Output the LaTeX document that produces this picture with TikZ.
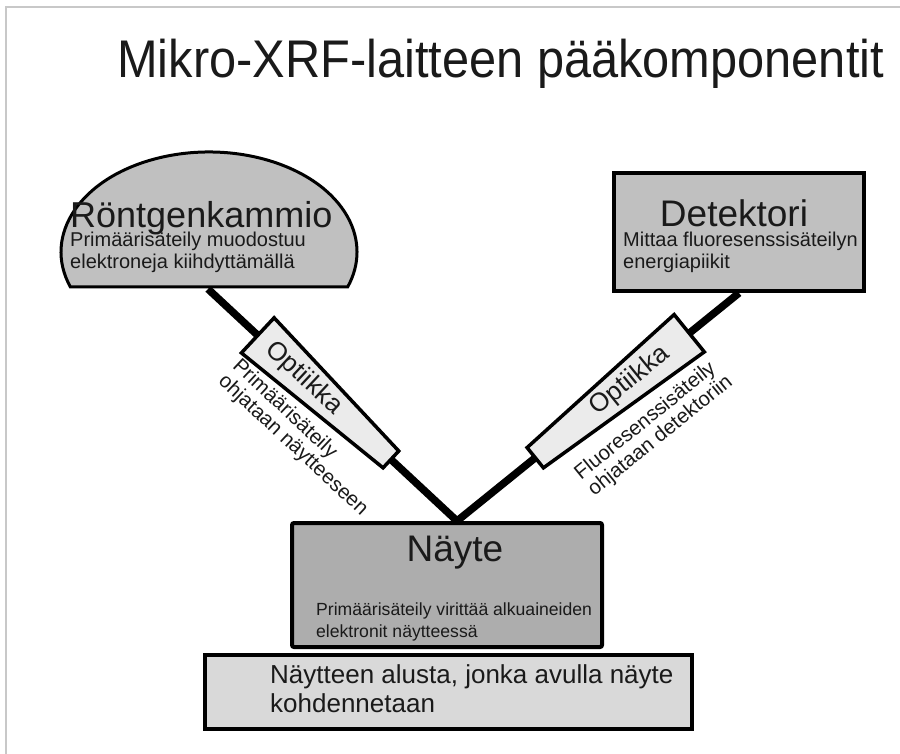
\documentclass[tikz,border=0pt]{standalone}
\usepackage{fontspec}
\setmainfont{Liberation Sans}
\newfontfamily\titlefont[FakeStretch=0.92]{Liberation Sans}
\usetikzlibrary{calc}
\definecolor{txt}{HTML}{1A1A1A}
\definecolor{framegray}{HTML}{C8C8C8}
\definecolor{boxgray}{HTML}{C0C0C0}
\definecolor{samplegray}{HTML}{ADADAD}
\definecolor{stagegray}{HTML}{D9D9D9}
\definecolor{opticgray}{HTML}{EBEBEB}
\begin{document}
\begin{tikzpicture}[x=1pt,y=-1pt,
  beam/.style={line width=7.5pt, draw=black, line join=miter},
  box/.style={draw=black, line width=4pt, inner sep=0pt},
  optbox/.style={draw=black, fill=opticgray, line width=3.5pt, line join=miter},
  subtext/.style={font=\fontsize{20}{22}\selectfont, text=txt, align=left, inner sep=0pt},
  headtext/.style={font=\fontsize{37}{40}\selectfont, text=txt, inner sep=0pt},
  opttext/.style={font=\fontsize{26}{28}\selectfont, text=txt, inner sep=0pt},
  labeltext/.style={font=\fontsize{20.5}{21}\selectfont, text=txt, align=left, inner sep=0pt}]
\useasboundingbox (0,0) rectangle (900,754);
\fill[white] (0,0) rectangle (900,754);
\draw[framegray, line width=1.5pt] (6,754) -- (6,7) -- (900,7);

% title
\node[anchor=base west, inner sep=0pt, text=txt, font=\titlefont\fontsize{53}{60}\selectfont] (title) at (117,78) {Mikro-XRF-laitteen pääkomponentit};

% anchors of the components
\coordinate (rkb) at (208,289);
\coordinate (apex) at (457,521);
\node[box, fill=boxgray, minimum width=250pt, minimum height=118pt, anchor=north west] (detektori) at (612,171) {};

% beams
\draw[beam] (rkb) -- (apex) -- (detektori.south);

% boxes on top of beams
\node[box, fill=boxgray, minimum width=250pt, minimum height=118pt, anchor=north west] at (612,171) {};
\node[box, fill=samplegray, minimum width=310pt, minimum height=124pt, rounded corners=2pt, anchor=north west] (nayte) at (290,521) {};
\node[box, fill=stagegray, minimum width=487pt, minimum height=74pt, anchor=north west] (alusta) at (203,653) {};

% X-ray tube dome
\draw[fill=boxgray, line width=3pt, line join=miter] (70.4,287) arc[start angle=159.5, end angle=380.5, x radius=148, y radius=100] -- cycle;

% optics
\coordinate (L1) at ($(rkb)!68pt!(apex)$);
\coordinate (L2) at ($(rkb)!250pt!(apex)$);
\draw[optbox] ($(L1)!24pt!90:(apex)$) -- ($(L2)!11.5pt!90:(apex)$) -- ($(L2)!11.5pt!-90:(apex)$) -- ($(L1)!24pt!-90:(apex)$) -- cycle;
\coordinate (R1) at ($(detektori.south)!64pt!(apex)$);
\coordinate (R2) at ($(detektori.south)!262pt!(apex)$);
\draw[optbox] ($(R1)!24pt!90:(apex)$) -- ($(R2)!13pt!90:(apex)$) -- ($(R2)!13pt!-90:(apex)$) -- ($(R1)!24pt!-90:(apex)$) -- cycle;

\node[opttext, rotate=-43] (optL) at ($(rkb)!131pt!(apex)$) {Optiikka};
\node[opttext, rotate=39] (optR) at ($(detektori.south)!140pt!(apex)$) {Optiikka};
\node[labeltext, rotate=-43] (labL) at (300,438) {Primäärisäteily\\ohjataan näytteeseen};
\node[labeltext, rotate=39] (labR) at (654,428) {Fluoresenssisäteily\\ohjataan detektoriin};

% texts (base anchor = baseline of the last line)
\node[headtext, anchor=base west, font=\fontsize{36}{40}\selectfont] (rkhead) at (70,228) {Röntgenkammio};
\node[subtext, anchor=base west] (rksub) at (70,269) {Primäärisäteily muodostuu\\elektroneja kiihdyttämällä};
\node[headtext, anchor=base] (dthead) at (734,227) {Detektori};
\node[subtext, anchor=base west] (dtsub) at (623,269) {Mittaa fluoresenssisäteilyn\\energiapiikit};
\node[headtext, anchor=base] (nyhead) at (455,561) {Näyte};
\node[subtext, anchor=base west, font=\fontsize{17.6}{22}\selectfont] (nysub) at (316,637) {Primäärisäteily virittää alkuaineiden\\elektronit näytteessä};
\node[subtext, anchor=base west, font=\fontsize{26}{29}\selectfont] (alsub) at (270,712) {Näytteen alusta, jonka avulla näyte\\kohdennetaan};
\end{tikzpicture}
\end{document}
